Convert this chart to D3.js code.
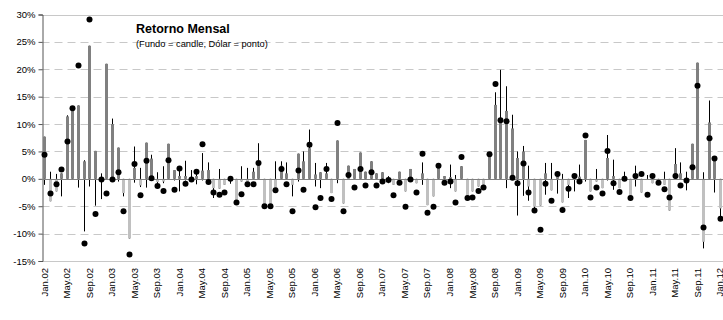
<!DOCTYPE html>
<html>
<head>
<meta charset="utf-8">
<script src="https://cdn.jsdelivr.net/npm/d3@7"></script>
<style>
  html, body { margin: 0; padding: 0; background: #fff; }
  svg { display: block; font-family: Arial, "Liberation Sans", sans-serif; }
</style>
</head>
<body>
<svg id="chart" width="723" height="320"></svg>
<script>
// Months Jan.02 .. Jan.12
const monthAbbr = ["Jan","Feb","Mar","Apr","May","Jun","Jul","Aug","Sep","Oct","Nov","Dec"];
const categories = [];
for (let y = 2; y <= 12; y++) {
  for (let m = 0; m < 12; m++) {
    if (y === 12 && m > 0) break;
    categories.push(monthAbbr[m] + "." + String(y).padStart(2, "0"));
  }
}
const tickLabels = categories.filter((c, i) => i % 4 === 0);
const yTicks = [-15, -10, -5, 0, 5, 10, 15, 20, 25, 30];

// Fund monthly return (candle body, from 0 to close), in %
const fundClose = [
  7.7, -4.1, -2.3, 1.0, 11.4, 12.5, 13.4, 3.2, 24.3, 5.1,
  -0.3, 21.0, 10.0, 5.7, -2.6, -10.9, 2.0, -1.2, 6.6, 3.7,
  -0.6, -0.5, 6.4, 1.6, 0.5, 0.5, 0.3, 0.5, 1.5, 1.6,
  -1.7, -1.8, -1.1, 0.3, -4.0, -0.5, -1.0, 1.3, 3.2, -5.1,
  -5.0, -1.7, 2.4, 1.0, -1.1, 4.6, 3.2, 5.6, 0.8, 1.2,
  1.0, -2.6, 7.0, -4.5, 2.4, 1.8, 4.8, 1.3, 3.2, 1.0,
  1.2, 0.2, -1.1, 1.3, -2.3, 1.8, -0.8, 1.0, -4.8, -3.2,
  2.0, 0.5, 0.3, -2.3, 2.3, -3.2, -2.3, -1.4, -1.1, 4.6,
  13.5, 10.5, 12.4, 9.2, 3.8, 5.0, -1.4, -5.1, -4.9, 1.0,
  -2.1, 0.9, -4.3, -1.1, 0.3, 0.4, 7.1, -2.3, -0.5, -1.7,
  3.8, 0.5, -1.7, 0.3, -3.8, 0.5, -2.5, -0.2, -0.8, -0.5,
  -1.1, -5.8, 2.7, 1.0, -0.3, 6.4, 21.2, -11.5, 10.3, 4.1,
  -5.4
];
// Fund intra-month high (upper wick), in %
const fundHigh = [
  7.7, 1.3, 0.9, 1.0, 11.6, 12.5, 13.4, 3.4, 24.3, 5.1,
  1.0, 21.0, 11.0, 5.7, 0, 0, 5.9, 2.0, 6.6, 4.4,
  1.2, 2.3, 6.4, 1.6, 1.6, 3.3, 1.6, 1.6, 4.7, 3.0,
  0, 1.8, 0, 0.5, 0, 2.3, 2.0, 2.0, 6.5, 0,
  0, 3.2, 3.2, 3.0, 0, 4.6, 5.0, 9.0, 2.9, 1.2,
  2.9, 0, 7.0, 0, 2.4, 1.8, 4.8, 1.3, 3.2, 1.0,
  1.2, 0.5, 0, 1.3, 0, 1.8, 0, 3.0, 0, 0,
  2.0, 0.5, 2.6, 0.7, 2.3, 0, 0, 0, 0, 4.6,
  15.8, 19.9, 16.9, 11.7, 5.0, 6.0, 2.4, 0, 0, 2.9,
  2.9, 0.9, 0.9, 0, 0.5, 2.6, 7.1, 0, 1.8, 0,
  8.0, 3.5, 0, 1.3, 0, 2.4, 0, 0.7, 0.5, 0,
  1.3, 0, 5.6, 3.0, 1.3, 6.4, 21.2, 1.2, 14.3, 4.1,
  0
];
// Fund intra-month low (lower wick), in %
const fundLow = [
  -1.1, -4.1, -2.3, -3.2, 0, 0, -1.6, -9.6, -1.4, -4.9,
  -3.7, 0, 0, -0.5, -3.2, -10.9, -0.7, -1.5, -1.6, 0,
  -1.0, -0.8, 0, -0.3, -2.3, -0.3, -0.5, -1.0, -0.3, 0,
  -3.5, -1.8, -1.1, -0.9, -4.0, -0.5, -1.0, 0, 0, -5.1,
  -5.0, -1.7, 0, -0.2, -3.2, -0.5, 0, 0, -1.4, -1.7,
  0, -2.6, -0.8, -4.5, 0, 0, 0, 0, 0, 0,
  0, -0.8, -1.1, 0, -2.3, 0, -0.8, -1.1, -4.8, -3.2,
  0, 0, -1.7, -2.3, 0, -3.2, -2.3, -1.4, -1.1, 0,
  0, 0, -1.7, 0, -6.7, -3.1, -4.0, -5.5, -4.9, -2.9,
  -2.1, -2.7, -4.3, -3.5, -2.3, 0, -0.5, -2.3, -0.5, -1.7,
  -0.3, -2.0, -1.7, 0, -3.8, -1.4, -2.5, -0.2, -0.8, -0.5,
  -1.1, -5.8, 0, 0, -2.1, 0, 0, -12.7, 0, -2.5,
  -7.2
];
// Dollar monthly return (point), in %
const dolar = [
  4.4, -2.7, -1.0, 1.7, 6.8, 12.9, 20.7, -11.8, 29.1, -6.4,
  -0.1, -2.7, -0.1, 1.2, -5.9, -13.8, 2.7, -3.0, 3.3, 0.1,
  -1.3, -2.2, 3.4, -2.0, 1.9, -0.9, -0.1, 1.3, 6.3, -0.6,
  -2.5, -2.9, -2.5, 0.0, -4.3, -2.8, -1.0, -1.0, 2.9, -5.0,
  -5.0, -2.1, 1.8, -1.0, -5.9, 1.5, -2.0, 6.2, -5.2, -3.5,
  1.8, -3.7, 10.2, -5.9, 0.7, -1.6, 1.8, -1.2, 1.2, -1.2,
  -0.5, -0.2, -3.0, -0.7, -5.1, -0.1, -2.5, 4.6, -6.2, -5.1,
  2.4, -0.7, -0.5, -4.3, 4.0, -3.5, -3.4, -2.2, -1.6, 4.5,
  17.3, 10.7, 10.5, 0.2, -0.8, 2.8, -2.5, -5.8, -9.3, -0.9,
  -4.0, 0.9, -5.7, -1.8, 0.5, -0.5, 7.9, -3.4, -1.6, -2.7,
  5.1, -0.8, -2.4, 0.0, -3.5, 0.5, 0.9, -2.9, 0.5, -0.7,
  -1.9, -3.4, 0.5, -1.2, -0.3, 2.1, 17.0, -8.9, 7.4, 3.7,
  -7.3
];

const data = categories.map((c, i) => ({
  cat: c, close: fundClose[i], high: fundHigh[i], low: fundLow[i], dol: dolar[i]
}));

const svg = d3.select("#chart");
const plotLeft = 41.5, plotRight = 722.7, plotTop = 14.5, plotBottom = 261;

const x = d3.scaleBand().domain(categories).range([plotLeft, plotRight]).paddingInner(0).paddingOuter(0);
const y = d3.scaleLinear().domain([-15, 30]).range([plotBottom, plotTop]);
const cx = d => x(d.cat) + x.bandwidth() / 2;

// Gridlines
const grid = svg.append("g");
grid.selectAll("line")
  .data(yTicks.filter(t => t !== 0 && t !== -15 && t !== 30))
  .join("line")
  .attr("x1", plotLeft).attr("x2", 723)
  .attr("y1", d => Math.round(y(d)) + 0.5).attr("y2", d => Math.round(y(d)) + 0.5)
  .attr("stroke", "#c8c8c8").attr("stroke-width", 1)
  .attr("stroke-dasharray", "8,5");
// top and bottom borders
[30, -15].forEach(v => {
  svg.append("line")
    .attr("x1", plotLeft).attr("x2", 723)
    .attr("y1", Math.round(y(v)) + 0.5).attr("y2", Math.round(y(v)) + 0.5)
    .attr("stroke", "#c8c8c8").attr("stroke-width", 1);
});

// Y axis
const yAxis = d3.axisLeft(y).tickValues(yTicks).tickSize(4).tickPadding(3)
  .tickFormat(d => d + "%");
const gy = svg.append("g")
  .attr("transform", `translate(${Math.round(plotLeft) + 0.5},0)`)
  .call(yAxis);
gy.select(".domain").attr("stroke", "#555");
gy.selectAll(".tick line").attr("stroke", "#555");
gy.selectAll(".tick text").attr("font-size", "9.5px").attr("fill", "#000")
  .attr("font-family", "Arial, 'Liberation Sans', sans-serif");

// Wicks
svg.append("g").selectAll("line")
  .data(data.filter(d => d.high !== d.low))
  .join("line")
  .attr("x1", d => Math.round(cx(d)) + 0.5).attr("x2", d => Math.round(cx(d)) + 0.5)
  .attr("y1", d => y(d.high)).attr("y2", d => y(d.low))
  .attr("stroke", "#000").attr("stroke-width", 1);

// Candle bodies
const bw = 3;
svg.append("g").selectAll("rect")
  .data(data)
  .join("rect")
  .attr("x", d => Math.round(cx(d)) + 0.5 - bw / 2)
  .attr("width", bw)
  .attr("y", d => y(Math.max(0, d.close)))
  .attr("height", d => Math.abs(y(d.close) - y(0)))
  .attr("fill", d => d.close >= 0 ? "#808080" : "#c0c0c0");

// Zero line
svg.append("line")
  .attr("x1", plotLeft).attr("x2", 723)
  .attr("y1", Math.round(y(0)) + 0.5).attr("y2", Math.round(y(0)) + 0.5)
  .attr("stroke", "#808080").attr("stroke-width", 1);

// Dollar points
svg.append("g").selectAll("circle")
  .data(data)
  .join("circle")
  .attr("cx", d => Math.round(cx(d)) + 0.5)
  .attr("cy", d => y(d.dol))
  .attr("r", 3)
  .attr("fill", "#000");

// X labels (every 4 months)
svg.append("g").selectAll("text")
  .data(tickLabels)
  .join("text")
  .attr("transform", d => `translate(${x(d) + x.bandwidth() / 2},268) rotate(-90)`)
  .attr("text-anchor", "end")
  .attr("dy", "0.35em")
  .attr("font-size", "9.5px")
  .attr("fill", "#000")
  .text(d => d);

// Title
svg.append("text")
  .attr("x", 136).attr("y", 33)
  .attr("font-size", "12.5px").attr("font-weight", "bold")
  .text("Retorno Mensal");
svg.append("text")
  .attr("x", 136).attr("y", 47)
  .attr("font-size", "9.3px")
  .text("(Fundo = candle, Dólar = ponto)");
</script>
</body>
</html>
